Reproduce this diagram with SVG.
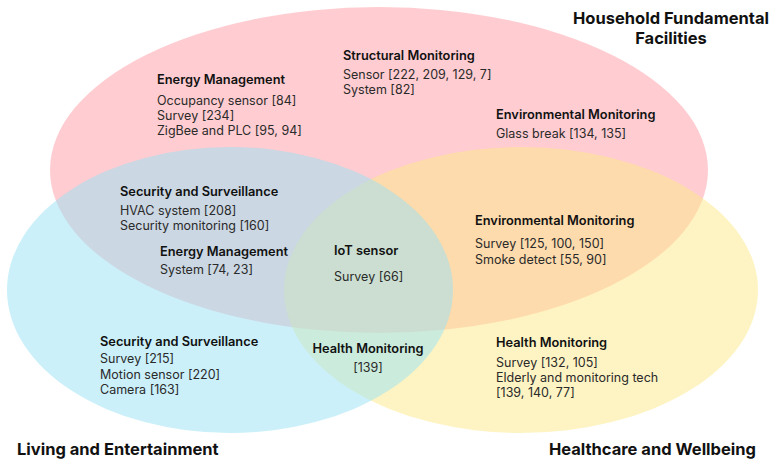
<svg xmlns="http://www.w3.org/2000/svg" width="771" height="462" viewBox="0 0 771 462">
<style>
.set{opacity:0.5}
.h{font-family:Inter,"Liberation Sans",sans-serif;font-size:12.8px;font-weight:600;fill:#111}
.t{font-family:Inter,"Liberation Sans",sans-serif;font-size:12.5px;font-weight:400;fill:#2a2a2a}
.title{font-family:Inter,"Liberation Sans",sans-serif;font-size:16.5px;font-weight:700;fill:#111}
</style>
<rect width="771" height="462" fill="#fff"/>
<g id="sets">
<ellipse id="set-household" class="set" cx="379" cy="170" rx="329" ry="163" fill="#FF9CA3"/>
<ellipse id="set-health" class="set" cx="521" cy="290" rx="237" ry="143" fill="#FDE987"/>
<ellipse id="set-living" class="set" cx="230" cy="290" rx="223" ry="143" fill="#97E1F5"/>
</g>
<g id="titles">
<text class="title" x="671" y="24" text-anchor="middle">Household Fundamental</text>
<text class="title" x="671" y="44" text-anchor="middle">Facilities</text>
<text class="title" x="17" y="455">Living and Entertainment</text>
<text class="title" x="756" y="455" text-anchor="end">Healthcare and Wellbeing</text>
</g>
<g id="household-structural">
<text class="h" x="343" y="60">Structural Monitoring</text>
<text class="t" x="343" y="79">Sensor [222, 209, 129, 7]</text>
<text class="t" x="343" y="94">System [82]</text>
</g>
<g id="household-energy">
<text class="h" x="157" y="84">Energy Management</text>
<text class="t" x="157" y="105">Occupancy sensor [84]</text>
<text class="t" x="157" y="120">Survey [234]</text>
<text class="t" x="157" y="135">ZigBee and PLC [95, 94]</text>
</g>
<g id="household-environmental">
<text class="h" x="496" y="119">Environmental Monitoring</text>
<text class="t" x="496" y="138">Glass break [134, 135]</text>
</g>
<g id="household-living-security">
<text class="h" x="120" y="196">Security and Surveillance</text>
<text class="t" x="120" y="215">HVAC system [208]</text>
<text class="t" x="120" y="230">Security monitoring [160]</text>
</g>
<g id="household-living-energy">
<text class="h" x="160" y="256">Energy Management</text>
<text class="t" x="160" y="274">System [74, 23]</text>
</g>
<g id="center-iot">
<text class="h" x="334" y="255">IoT sensor</text>
<text class="t" x="334" y="281">Survey [66]</text>
</g>
<g id="household-health-environmental">
<text class="h" x="475" y="225">Environmental Monitoring</text>
<text class="t" x="475" y="248">Survey [125, 100, 150]</text>
<text class="t" x="475" y="264">Smoke detect [55, 90]</text>
</g>
<g id="living-security">
<text class="h" x="100" y="346">Security and Surveillance</text>
<text class="t" x="100" y="363">Survey [215]</text>
<text class="t" x="100" y="379">Motion sensor [220]</text>
<text class="t" x="100" y="394">Camera [163]</text>
</g>
<g id="living-health-monitoring">
<text class="h" x="368" y="353" text-anchor="middle">Health Monitoring</text>
<text class="t" x="368" y="372" text-anchor="middle">[139]</text>
</g>
<g id="health-monitoring">
<text class="h" x="496" y="347">Health Monitoring</text>
<text class="t" x="496" y="367">Survey [132, 105]</text>
<text class="t" x="496" y="382">Elderly and monitoring tech</text>
<text class="t" x="496" y="397">[139, 140, 77]</text>
</g>
<g id="connectors"></g>
</svg>
